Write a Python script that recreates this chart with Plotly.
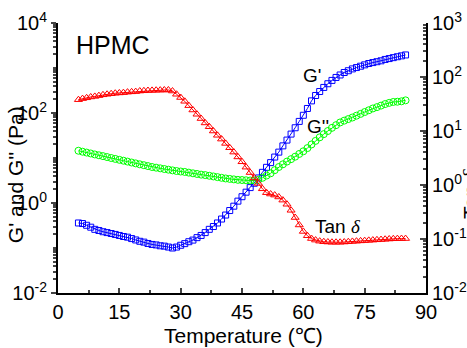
import plotly.graph_objects as go

temperature = list(range(5, 86))

g_storage = [0.36, 0.35, 0.32, 0.29, 0.26, 0.245, 0.23, 0.22, 0.21, 0.20,
             0.19, 0.18, 0.174, 0.162, 0.151, 0.141, 0.135, 0.126, 0.120, 0.117,
             0.112, 0.110, 0.105, 0.100, 0.105, 0.115, 0.125, 0.138, 0.15, 0.17,
             0.19, 0.22, 0.26, 0.30, 0.36, 0.44, 0.54, 0.68, 0.85, 1.10,
             1.38, 1.74, 2.2, 2.75, 3.6, 4.8, 6.2, 7.9, 10.5, 13.5,
             18.6, 25, 34, 47, 65, 89, 126, 186, 245, 300,
             370, 447, 530, 617, 700, 794, 870, 955, 1023, 1096,
             1175, 1259, 1320, 1380, 1445, 1550, 1620, 1700, 1780, 1860, 1950]

g_loss = [14.5, 13.8, 13.2, 12.6, 12.0, 11.5, 11.0, 10.5, 10.0, 9.55,
          9.12, 8.71, 8.32, 7.94, 7.59, 7.24, 6.92, 6.61, 6.31, 6.10,
          5.89, 5.69, 5.50, 5.31, 5.13, 5.01, 4.90, 4.73, 4.57, 4.42,
          4.27, 4.17, 4.03, 3.89, 3.76, 3.63, 3.51, 3.43, 3.35, 3.27,
          3.24, 3.20, 3.16, 3.16, 3.27, 3.63, 4.07, 4.57, 5.37, 6.31,
          7.24, 8.32, 9.44, 10.7, 12.3, 14.1, 16.6, 20.0, 24.0, 28.8,
          33.9, 39.8, 46.8, 53.7, 61.7, 67.6, 73.3, 79.4, 87.1, 95.5,
          105, 115, 126, 135, 146, 158, 168, 176, 178, 182, 191]

tan_delta = [38.0, 39.8, 41.2, 42.7, 43.7, 45.2, 46.8, 47.9, 49.0, 50.1,
             50.7, 51.3, 52.5, 53.1, 53.7, 55.0, 55.6, 56.2, 56.5, 56.9,
             57.1, 57.5, 57.5, 55.0, 47.9, 41.7, 35.5, 29.5, 24.5, 20.4,
             17.0, 14.1, 12.0, 10.0, 8.32, 7.08, 5.89, 4.90, 4.07, 3.31,
             2.69, 2.14, 1.70, 1.35, 1.07, 0.85, 0.72, 0.68, 0.65, 0.60,
             0.525, 0.44, 0.34, 0.25, 0.182, 0.138, 0.115, 0.102, 0.0955, 0.0912,
             0.0891, 0.0879, 0.0871, 0.0871, 0.0871, 0.0879, 0.0891, 0.0902, 0.0912, 0.0923,
             0.0933, 0.0944, 0.0955, 0.0966, 0.0977, 0.0989, 0.100, 0.101, 0.1016, 0.102, 0.102]

x_ticks = [0, 15, 30, 45, 60, 75, 90]
left_ticks = [1e-2, 1e0, 1e2, 1e4]
left_tick_text = ["10<sup>-2</sup>", "10<sup>0</sup>", "10<sup>2</sup>", "10<sup>4</sup>"]
right_ticks = [1e-2, 1e-1, 1e0, 1e1, 1e2, 1e3]
right_tick_text = ["10<sup>-2</sup>", "10<sup>-1</sup>", "10<sup>0</sup>",
                   "10<sup>1</sup>", "10<sup>2</sup>", "10<sup>3</sup>"]

FONT = "Liberation Sans, Arial, sans-serif"

left_minor = [m * 10 ** e for e in range(-2, 4) for m in range(2, 11)]
right_minor = [m * 10 ** e for e in range(-2, 3) for m in range(2, 10)]

fig = go.Figure()
fig.add_trace(go.Scatter(x=temperature, y=g_storage, mode="lines+markers",
                         line=dict(color="#0000FF", width=1),
                         marker=dict(symbol="square-open", size=6, color="#0000FF", line=dict(width=1)),
                         showlegend=False))
fig.add_trace(go.Scatter(x=temperature, y=g_loss, mode="lines+markers",
                         line=dict(color="#00FF00", width=1),
                         marker=dict(symbol="circle-open", size=7, color="#00FF00", line=dict(width=1)),
                         showlegend=False))
fig.add_trace(go.Scatter(x=temperature, y=tan_delta, mode="lines+markers", yaxis="y2",
                         line=dict(color="#FF0000", width=1),
                         marker=dict(symbol="triangle-up-open", size=7, color="#FF0000", line=dict(width=1)),
                         showlegend=False))

fig.update_layout(
    width=467, height=348,
    margin=dict(l=58, r=41, t=23, b=55),
    paper_bgcolor="white", plot_bgcolor="white",
    font=dict(family=FONT, size=19, color="black"),
    xaxis=dict(range=[0, 90], tickvals=x_ticks, ticks="inside", ticklen=5, tickwidth=1.5,
               showline=True, linecolor="black", linewidth=2, showgrid=False, zeroline=False,
               tickfont=dict(size=20), mirror=False, automargin=False,
               minor=dict(tickvals=[7.5, 22.5, 37.5, 52.5, 67.5, 82.5], ticks="inside", ticklen=3)),
    yaxis=dict(type="log", range=[-2, 4], tickvals=left_ticks, ticktext=left_tick_text,
               ticks="outside", ticklen=5, tickwidth=1.5, showline=True, linecolor="black",
               linewidth=2, showgrid=False, zeroline=False, tickfont=dict(size=20), automargin=False,
               minor=dict(tickvals=left_minor, ticks="outside", ticklen=3)),
    yaxis2=dict(type="log", range=[-2, 3], overlaying="y", side="right",
                tickvals=right_ticks, ticktext=right_tick_text, automargin=False,
                ticks="inside", ticklen=6, tickwidth=1.5, showline=True, linecolor="black",
                linewidth=2, showgrid=False, zeroline=False, tickfont=dict(size=20),
                minor=dict(tickvals=right_minor, ticks="inside", ticklen=3)),
)

annots = [
    dict(x=0.043, y=0.918, text="HPMC", xanchor="left", font=dict(size=25)),
    dict(x=0.691, y=0.806, text="G'", font=dict(size=19)),
    dict(x=0.707, y=0.618, text="G''", font=dict(size=19)),
    dict(x=0.6935, y=0.248, xanchor="left",
         text="Tan <span style='font-family:Liberation Serif'><i>δ</i></span>", font=dict(size=19)),
    dict(x=0.5045, y=-0.158, text="Temperature (℃)", font=dict(size=21)),
    dict(x=-0.117, y=0.44, text="G' and G'' (Pa)", textangle=-90, font=dict(size=21)),
    dict(x=1.122, y=0.37, text="Tan <span style='font-family:Liberation Serif'><i>δ</i></span>",
         textangle=-90, font=dict(size=21)),
]
for a in annots:
    a.update(xref="paper", yref="paper", showarrow=False)
    a.setdefault("xanchor", "center")
    a.setdefault("yanchor", "middle")
    fig.add_annotation(**a)

fig.write_html("out.html")
